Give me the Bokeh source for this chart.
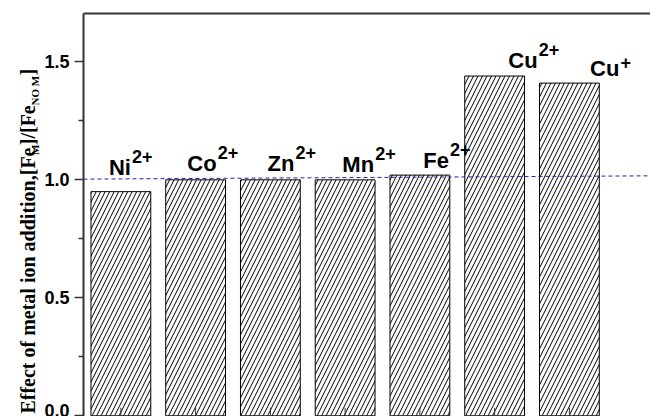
from math import pi

from bokeh.core.properties import value
from bokeh.embed import file_html
from bokeh.layouts import row
from bokeh.models import (ColumnDataSource, FixedTicker, LabelSet,
                          LinearAxis, PrintfTickFormatter, Range1d)
from bokeh.plotting import figure
from bokeh.resources import INLINE

# ---- data -------------------------------------------------------------
ions = ["Ni", "Co", "Zn", "Mn", "Fe", "Cu", "Cu"]
charges = ["2+", "2+", "2+", "2+", "2+", "2+", "+"]
ratio = [0.95, 1.00, 1.00, 1.00, 1.02, 1.44, 1.41]
positions = [1, 2, 3, 4, 5, 6, 7]
y_ticks = [0.0, 0.5, 1.0, 1.5]
ref_x = [0.5, 8.1]          # reference level (no metal added)
ref_y = [1.003, 1.017]

# ---- label placement (pixels) -----------------------------------------
label_dx = [10, 21, 24, 29, 29, 43, 50]     # right edge of element symbol
label_gap = [17, 9, 9, 8, 7, 8, 7]          # baseline above the bar top
sup_raise = [12, 12, 12, 12, 12, 12, 7]     # superscript lift

H = 416
TITLE_W = 40
PLOT_W = 650 - TITLE_W
Y0, Y1 = -0.003, 1.705
TOP = 13
AXIS_COLOR = "#333333"

# ---- rotated y title (with subscripts) in a narrow strip --------------
strip = figure(width=TITLE_W, height=H, output_backend="svg",
               toolbar_location=None, x_range=Range1d(0, TITLE_W),
               y_range=Range1d(0, H), x_axis_location=None,
               y_axis_location=None, min_border=0)
strip.outline_line_color = None
strip.xgrid.visible = False
strip.ygrid.visible = False

# (text, font size, start measured from the bottom, baseline x)
title_parts = [
    ("Effect of metal ion addition,[Fe", 20, 3, 27),
    ("M", 11, 270, 34),
    ("]/[Fe", 20, 280, 27),
    ("NO M", 11, 321, 34),
    ("]", 20, 352, 27),
]
for txt, size, start, bx in title_parts:
    strip.text(x=[bx], y=[start], text=[txt], angle=pi / 2,
               text_align="left", text_baseline="alphabetic",
               text_font=value("Liberation Serif"), text_font_style="bold",
               text_font_size=f"{size}px", text_color="black")

# ---- main chart -------------------------------------------------------
p = figure(width=PLOT_W, height=H, output_backend="svg", toolbar_location=None,
           x_range=Range1d(0.5, 8.085), y_range=Range1d(Y0, Y1),
           x_axis_location=None, y_axis_location=None,
           min_border_left=83 - TITLE_W, min_border_right=0,
           min_border_top=TOP, min_border_bottom=0)
p.outline_line_color = None
p.xgrid.visible = False
p.ygrid.visible = False
p.background_fill_color = "white"
p.border_fill_color = "white"

# left axis
minor = [(a + b) / 2 for a, b in zip(y_ticks, y_ticks[1:])]
yax = LinearAxis(ticker=FixedTicker(ticks=y_ticks, minor_ticks=minor),
                 formatter=PrintfTickFormatter(format="%.1f"))
yax.axis_line_color = AXIS_COLOR
yax.axis_line_width = 2
yax.major_tick_line_color = AXIS_COLOR
yax.major_tick_line_width = 1.5
yax.major_tick_in = 0
yax.major_tick_out = 9
yax.minor_tick_line_color = AXIS_COLOR
yax.minor_tick_line_width = 1.5
yax.minor_tick_in = 0
yax.minor_tick_out = 5
yax.major_label_standoff = 5
yax.major_label_text_font = "Liberation Sans"
yax.major_label_text_font_style = "bold"
yax.major_label_text_font_size = "18px"
yax.major_label_text_color = "black"
p.add_layout(yax, "left")

# top border line
tax = LinearAxis(ticker=FixedTicker(ticks=[]))
tax.axis_line_color = AXIS_COLOR
tax.axis_line_width = 2
tax.major_tick_in = 0
tax.major_tick_out = 0
tax.minor_tick_in = 0
tax.minor_tick_out = 0
tax.major_label_standoff = 0
p.add_layout(tax, "above")

# hatched bars
p.vbar(x=positions, top=ratio, bottom=0, width=0.8,
       fill_color="white", line_color="black", line_width=1,
       hatch_pattern="/", hatch_color="black", hatch_scale=9, hatch_weight=1)

# short inward ticks at the foot of each bar
tick_len = 8 * (Y1 - Y0) / (H - TOP)
p.segment(x0=positions, y0=[0] * len(positions), x1=positions,
          y1=[tick_len] * len(positions), line_color=AXIS_COLOR, line_width=1)

# reference level
p.line(ref_x, ref_y, line_color="#2323a8", line_width=1, line_dash="4 3")

# ion labels
src = ColumnDataSource(dict(
    x=positions, y=ratio, base=ions, sup=charges,
    dx=label_dx, gap=label_gap,
    sdx=[d + 1 for d in label_dx],
    sgap=[g + r for g, r in zip(label_gap, sup_raise)],
))
p.add_layout(LabelSet(source=src, x="x", y="y", text="base",
                      x_offset="dx", y_offset="gap",
                      text_align="right", text_baseline="alphabetic",
                      text_font=value("Liberation Sans"), text_font_style="bold",
                      text_font_size="22px", text_color="black"))
p.add_layout(LabelSet(source=src, x="x", y="y", text="sup",
                      x_offset="sdx", y_offset="sgap",
                      text_align="left", text_baseline="alphabetic",
                      text_font=value("Liberation Sans"), text_font_style="bold",
                      text_font_size="18px", text_color="black"))

layout = row(strip, p, spacing=0)
open("out.html", "w").write(file_html(layout, INLINE))
